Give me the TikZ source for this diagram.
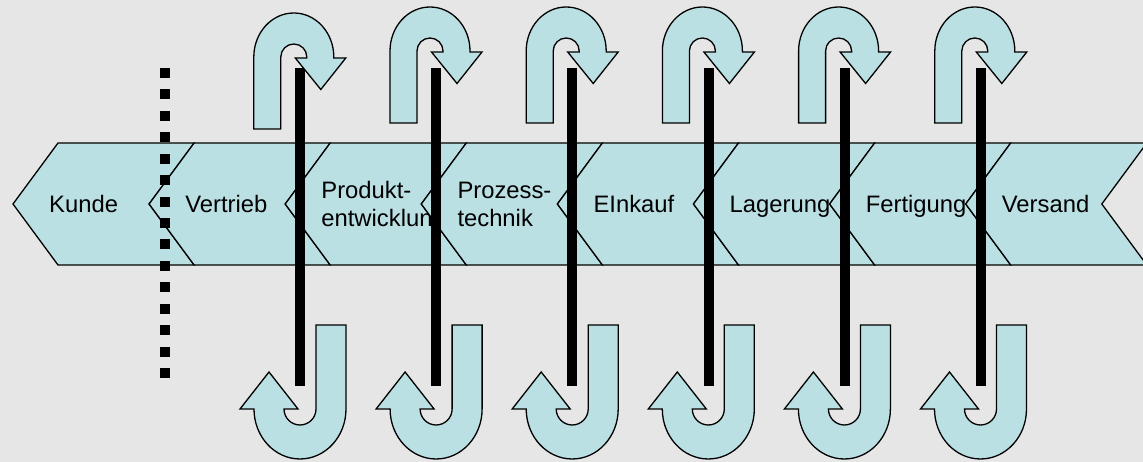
\documentclass[tikz,border=0pt]{standalone}
\usepackage{fontspec}
\setmainfont{Liberation Sans}
\begin{document}
\begin{tikzpicture}[x=1pt,y=1pt,
  chev/.style={draw=black, line width=1.3pt, fill=chevfill, line join=miter},
  lbl/.style={inner sep=0pt, anchor=base west, align=left,
              font=\fontsize{23.8}{28.5}\selectfont},
  turn/.style={draw=black, line width=1.3pt, fill=chevfill, line join=miter},
  bar/.style={line width=10pt, line cap=butt, black},
  divider/.style={line width=10pt, dash pattern=on 10pt off 11.43pt, black}]
\definecolor{chevfill}{RGB}{187,224,227}
\definecolor{bg}{RGB}{230,230,230}
% canvas
\useasboundingbox (0,0) rectangle (1143,462);
\fill[bg] (0,0) rectangle (1143,462);

% process chain of left-pointing chevrons, drawn left to right
\def\pitch{136.1}
\foreach \lab [count=\i from 0] in {Kunde, Vertrieb, {Produkt-\\entwicklung},
    {Prozess-\\technik}, EInkauf, Lagerung, Fertigung, Versand}{
  \pgfmathsetmacro\t{13+\pitch*\i}
  \pgfmathsetmacro\u{\t+\pitch}
  \draw[chev] (\t+45,319) -- (\t,258) -- (\t+45,197) -- (\u+45,197)
              -- (\u,258) -- (\u+45,319) -- cycle;
  % two-line labels sit on the baseline of their last line
  \ifnum\i=2 \def\by{235}\else\ifnum\i=3 \def\by{235}\else\def\by{249.5}\fi\fi
  \node[lbl] (lab\i) at (\t+36,\by) {\lab};
}

% dotted divider between customer and company
\coordinate (dtop) at (165,394);
\coordinate (dbot) at (165,84);
\draw[divider] (dtop) -- (dbot);

% vertical bars through the chain
\foreach \i in {0,...,5}{
  \coordinate (bt\i) at (300+136.2*\i,394);
  \coordinate (bb\i) at (300+136.2*\i,76);
  \draw[bar] (bt\i) -- (bb\i);
}

% U-turn arrows above the chain
\foreach \i in {0,...,5}{
  \pgfmathsetmacro\xl{253.8+136.2*\i}
  \pgfmathsetmacro\yc{\i==0 ? 405 : 411}
  \begin{scope}[shift={(\xl,\yc)}]
    \draw[turn] (0,-72) -- (0,0) arc[start angle=180,end angle=0,x radius=40,y radius=44]
      -- (80,-1) -- (92,-1) -- (67,-32.5) -- (41.5,-1) -- (53,-1)
      -- (53,0) arc[start angle=0,end angle=180,radius=13]
      -- (27,-72) -- cycle;
  \end{scope}
}

% J-shaped return arrows below the chain
\foreach \i in {0,...,5}{
  \pgfmathsetmacro\xr{346+136.1*\i}
  \begin{scope}[shift={(\xr,53)}]
    \draw[turn] (-30,84) -- (0,84) -- (0,0)
      arc[start angle=0,end angle=-180,x radius=46,y radius=50]
      -- (-106,0) -- (-77,37) -- (-48,0) -- (-62,0)
      arc[start angle=180,end angle=360,radius=16]
      -- cycle;
  \end{scope}
}
\end{tikzpicture}
\end{document}
